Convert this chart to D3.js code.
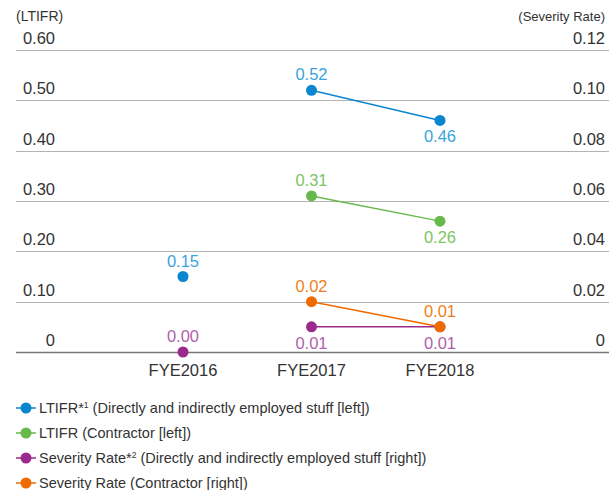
<!DOCTYPE html>
<html>
<head>
<meta charset="utf-8">
<script src="https://cdn.jsdelivr.net/npm/d3@7"></script>
<style>
  body { margin: 0; background: #fff; }
  svg { font-family: "Liberation Sans", Arial, sans-serif; }
</style>
</head>
<body>
<div class="container"></div>
<script>
const years = ['FYE2016', 'FYE2017', 'FYE2018'];
const ltifrDirect = [0.15, 0.52, 0.46];
const ltifrContractor = [null, 0.31, 0.26];
const severityDirect = [0.00, 0.01, 0.01];
const severityContractor = [null, 0.02, 0.01];
const leftTicks = [0, 0.1, 0.2, 0.3, 0.4, 0.5, 0.6];
const rightTicks = [0, 0.02, 0.04, 0.06, 0.08, 0.10, 0.12];

const width = 609;
const height = 490;
const plotTop = 50;
const plotBottom = 352;

const xScale = d3.scalePoint().domain(years).range([183, 440]);
const yLeft = d3.scaleLinear().domain([0, 0.6]).range([plotBottom, plotTop]);
const yRight = d3.scaleLinear().domain([0, 0.12]).range([plotBottom, plotTop]);

const svg = d3.select('.container')
  .append('svg')
  .attr('width', width)
  .attr('height', height);

// grid lines
svg.append('g')
  .selectAll('line')
  .data(leftTicks)
  .enter()
  .append('line')
  .attr('x1', 16)
  .attr('x2', width)
  .attr('y1', d => Math.round(yLeft(d)) + 0.5)
  .attr('y2', d => Math.round(yLeft(d)) + 0.5)
  .attr('stroke', d => d === 0 ? '#777' : '#b4b4b4')
  .attr('stroke-width', d => d === 0 ? 1.5 : 1);

// left axis labels
svg.append('g')
  .selectAll('text')
  .data(leftTicks)
  .enter()
  .append('text')
  .attr('x', 55)
  .attr('y', d => yLeft(d) - 6)
  .attr('text-anchor', 'end')
  .attr('font-size', 16.5)
  .attr('fill', '#333')
  .text(d => d === 0 ? '0' : d3.format('.2f')(d));

// right axis labels
svg.append('g')
  .selectAll('text')
  .data(rightTicks)
  .enter()
  .append('text')
  .attr('x', 605)
  .attr('y', d => yRight(d) - 6)
  .attr('text-anchor', 'end')
  .attr('font-size', 16.5)
  .attr('fill', '#333')
  .text(d => d === 0 ? '0' : d3.format('.2f')(d));

svg.append('text')
  .attr('x', 16)
  .attr('y', 21)
  .attr('font-size', 14)
  .attr('fill', '#333')
  .text('(LTIFR)');

svg.append('text')
  .attr('x', 605)
  .attr('y', 21)
  .attr('text-anchor', 'end')
  .attr('font-size', 13)
  .attr('fill', '#333')
  .text('(Severity Rate)');

// x axis labels
svg.append('g')
  .selectAll('text')
  .data(years)
  .enter()
  .append('text')
  .attr('x', d => xScale(d))
  .attr('y', 376)
  .attr('text-anchor', 'middle')
  .attr('font-size', 16.5)
  .attr('fill', '#333')
  .text(d => d);

const series = [
  { values: ltifrDirect, y: yLeft, color: '#0a86d0', label: '#3aa3dc', pos: ['above', 'above', 'below'] },
  { values: ltifrContractor, y: yLeft, color: '#66b94a', label: '#7cc465', pos: ['above', 'above', 'below'] },
  { values: severityDirect, y: yRight, color: '#9a2b8c', label: '#b062a8', pos: ['above', 'below', 'below'] },
  { values: severityContractor, y: yRight, color: '#ef6a00', label: '#f07f22', pos: ['above', 'above', 'above'] },
];

series.forEach(s => {
  const pts = s.values
    .map((v, i) => ({ v, i, year: years[i] }))
    .filter(d => d.v !== null);

  const line = d3.line()
    .x(d => xScale(d.year))
    .y(d => s.y(d.v));

  const linePts = pts.filter(d => d.i > 0);
  const g = svg.append('g');

  g.append('path')
    .attr('d', line(linePts))
    .attr('fill', 'none')
    .attr('stroke', s.color)
    .attr('stroke-width', 1.5);

  g.selectAll('circle')
    .data(pts)
    .enter()
    .append('circle')
    .attr('cx', d => xScale(d.year))
    .attr('cy', d => s.y(d.v))
    .attr('r', 5.5)
    .attr('fill', s.color);

  g.selectAll('text')
    .data(pts)
    .enter()
    .append('text')
    .attr('x', d => xScale(d.year))
    .attr('y', d => s.pos[d.i] === 'above' ? s.y(d.v) - 10 : s.y(d.v) + 22)
    .attr('text-anchor', 'middle')
    .attr('font-size', 16.5)
    .attr('fill', s.label)
    .text(d => d3.format('.2f')(d.v));
});

// legend
const legendItems = [
  { color: '#0a86d0', parts: ['LTIFR*', '1', ' (Directly and indirectly employed stuff [left])'] },
  { color: '#66b94a', parts: ['LTIFR (Contractor [left])'] },
  { color: '#9a2b8c', parts: ['Severity Rate*', '2', ' (Directly and indirectly employed stuff [right])'] },
  { color: '#ef6a00', parts: ['Severity Rate (Contractor [right])'] },
];

const legend = svg.append('g')
  .selectAll('g')
  .data(legendItems)
  .enter()
  .append('g')
  .attr('transform', (d, i) => `translate(0, ${408 + i * 25})`);

legend.append('line')
  .attr('x1', 16)
  .attr('x2', 36)
  .attr('stroke', d => d.color)
  .attr('stroke-width', 1.5);

legend.append('circle')
  .attr('cx', 26)
  .attr('r', 5.5)
  .attr('fill', d => d.color);

const legendText = legend.append('text')
  .attr('x', 39)
  .attr('y', 5)
  .attr('font-size', 14.5)
  .attr('fill', '#333');

legendText.each(function (d) {
  const t = d3.select(this);
  d.parts.forEach((p, i) => {
    const span = t.append('tspan').text(p);
    if (i === 1) span.attr('font-size', 8.5).attr('dy', -5);
    if (i === 2) span.attr('dy', 5);
  });
});
</script>
</body>
</html>
